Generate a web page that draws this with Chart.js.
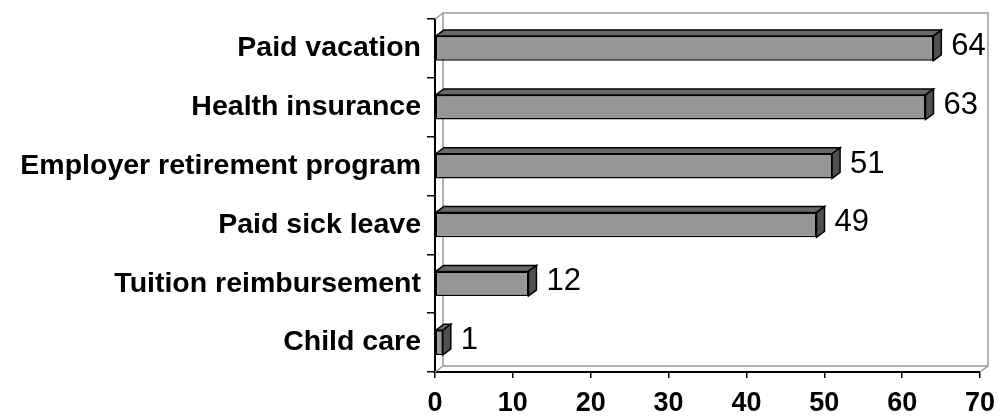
<!DOCTYPE html>
<html>
<head>
<meta charset="utf-8">
<script src="https://cdn.jsdelivr.net/npm/chart.js@4.4.1/dist/chart.umd.min.js"></script>
<style>
    html, body { margin: 0; padding: 0; background: #fff; }
    #wrap { width: 999px; height: 417px; }
</style>
</head>
<body>
<div id="wrap"><canvas id="benefits"></canvas></div>
<script>
const categories = [
    'Paid vacation',
    'Health insurance',
    'Employer retirement program',
    'Paid sick leave',
    'Tuition reimbursement',
    'Child care',
]
const percents = [64, 63, 51, 49, 12, 1]
const xTicks = [0, 10, 20, 30, 40, 50, 60, 70]

// colours
const frontGray = 'rgb(150 150 150)'
const topGray = 'rgb(105 105 105)'
const sideGray = 'rgb(80 80 80)'
const wallGray = 'rgb(153 153 153)'

const depthX = 8
const depthY = 6

const threeD = {
    id: 'threeD',
    beforeDatasetsDraw(chart) {
        const { ctx, chartArea: a } = chart
        ctx.save()
        ctx.strokeStyle = wallGray
        ctx.lineWidth = 1.5
        ctx.beginPath()
        ctx.moveTo(a.left + depthX, a.bottom - depthY)
        ctx.lineTo(a.left + depthX, a.top - depthY)
        ctx.lineTo(a.right + depthX, a.top - depthY)
        ctx.lineTo(a.right + depthX, a.bottom - depthY)
        ctx.lineTo(a.left + depthX, a.bottom - depthY)
        ctx.moveTo(a.left, a.bottom)
        ctx.lineTo(a.left + depthX, a.bottom - depthY)
        ctx.moveTo(a.right, a.bottom)
        ctx.lineTo(a.right + depthX, a.bottom - depthY)
        ctx.moveTo(a.left, a.top)
        ctx.lineTo(a.left + depthX, a.top - depthY)
        ctx.stroke()
        ctx.restore()
    },
    afterDatasetsDraw(chart) {
        const { ctx } = chart
        const meta = chart.getDatasetMeta(0)
        ctx.save()
        ctx.strokeStyle = '#000'
        ctx.lineWidth = 1.5
        ctx.lineJoin = 'miter'
        meta.data.forEach((bar, i) => {
            const { x, y, base, height } = bar.getProps(['x', 'y', 'base', 'height'])
            const top = y - height / 2
            const bottom = y + height / 2
            // top face
            ctx.beginPath()
            ctx.moveTo(base, top)
            ctx.lineTo(base + depthX, top - depthY)
            ctx.lineTo(x + depthX, top - depthY)
            ctx.lineTo(x, top)
            ctx.closePath()
            ctx.fillStyle = topGray
            ctx.fill()
            ctx.stroke()
            // side face
            ctx.beginPath()
            ctx.moveTo(x, top)
            ctx.lineTo(x + depthX, top - depthY)
            ctx.lineTo(x + depthX, bottom - depthY)
            ctx.lineTo(x, bottom)
            ctx.closePath()
            ctx.fillStyle = sideGray
            ctx.fill()
            ctx.stroke()
            // value label
            ctx.fillStyle = '#000'
            ctx.font = '31px "Liberation Sans", Arial, sans-serif'
            ctx.textAlign = 'left'
            ctx.textBaseline = 'middle'
            ctx.fillText(String(percents[i]), x + depthX + 10, y - depthY / 2 + 1)
        })
        ctx.restore()
    },
}

new Chart(document.getElementById('benefits'), {
    type: 'bar',
    data: {
        labels: categories,
        datasets: [
            {
                data: percents,
                backgroundColor: frontGray,
                borderColor: '#000',
                borderWidth: 1.5,
                borderSkipped: false,
                categoryPercentage: 1,
                barPercentage: 0.42,
            },
        ],
    },
    options: {
        indexAxis: 'y',
        responsive: true,
        maintainAspectRatio: false,
        animation: false,
        layout: { padding: { top: 19, right: 19, left: 0, bottom: 0 } },
        plugins: {
            legend: { display: false },
            tooltip: { enabled: false },
        },
        scales: {
            x: {
                min: 0,
                max: 70,
                afterBuildTicks: (scale) => {
                    scale.ticks = xTicks.map((v) => ({ value: v }))
                },
                afterFit: (scale) => {
                    scale.height = 45
                    scale.paddingLeft = 0
                    scale.paddingRight = 0
                },
                grid: {
                    drawOnChartArea: false,
                    drawTicks: true,
                    tickLength: 6,
                    color: '#000',
                    lineWidth: 1.5,
                },
                border: { color: '#000', width: 2 },
                ticks: {
                    color: '#000',
                    padding: 9,
                    font: { family: '"Liberation Sans", Arial, sans-serif', size: 27, weight: 'bold' },
                },
            },
            y: {
                afterFit: (scale) => {
                    scale.width = 435
                    scale.paddingTop = 0
                    scale.paddingBottom = 0
                },
                grid: {
                    offset: true,
                    drawOnChartArea: false,
                    drawTicks: true,
                    tickLength: 8,
                    color: '#000',
                    lineWidth: 1.5,
                },
                border: { color: '#000', width: 2 },
                ticks: {
                    color: '#000',
                    padding: 6,
                    font: { family: '"Liberation Sans", Arial, sans-serif', size: 28.5, weight: 'bold' },
                },
            },
        },
    },
    plugins: [threeD],
})
</script>
</body>
</html>
